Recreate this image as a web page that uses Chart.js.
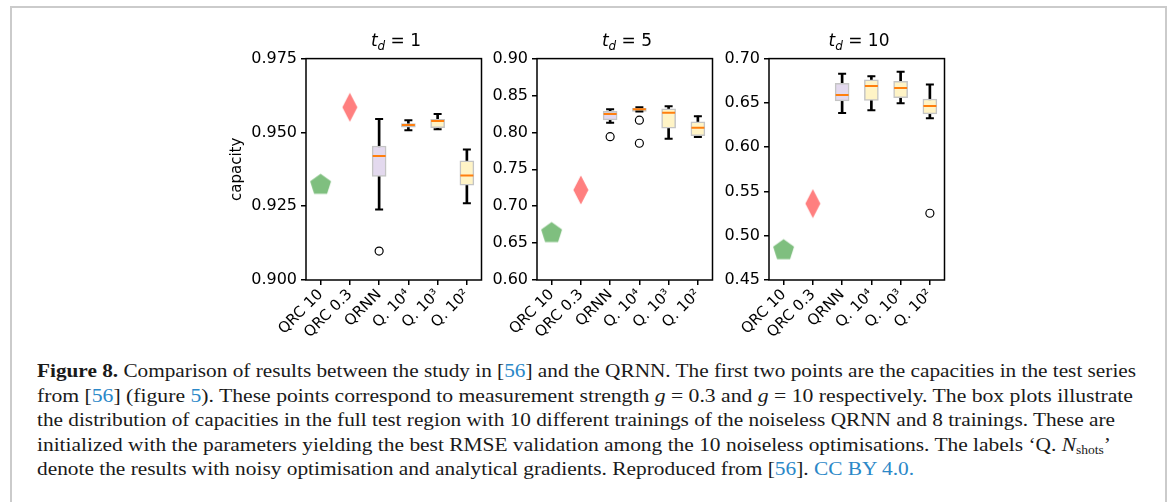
<!DOCTYPE html>
<html>
<head>
<meta charset="utf-8">
<script src="https://cdn.jsdelivr.net/npm/chart.js@4.4.0/dist/chart.umd.min.js"></script>
<style>
  body { margin:0; background:#fff; width:1170px; height:502px; overflow:hidden; position:relative; font-family:"DejaVu Sans", sans-serif; }
  .frame { position:absolute; left:10px; top:6px; width:1153px; height:520px; border:2px solid #cbcbcb; border-bottom:none; }
  canvas { position:absolute; }
  .ttl { position:absolute; width:180px; text-align:center; font-size:17px; top:30px; color:#000; }
  .ttl sub { font-size:12px; vertical-align:-4px; }
  .cap { position:absolute; left:37px; font-family:"Liberation Serif", serif; font-size:19px; white-space:nowrap; transform-origin:0 0; color:#1a1a1a; }
  .lk { color:#2b88c8; }
  .cap sub { font-size:12px; vertical-align:-3px; }
</style>
</head>
<body>
<div class="frame"></div>

<canvas id="c1" width="262" height="305" style="left:228px;top:45px"></canvas>
<canvas id="c2" width="234" height="305" style="left:487px;top:45px"></canvas>
<canvas id="c3" width="234" height="305" style="left:719px;top:45px"></canvas>

<div class="ttl" style="left:306px"><i>t</i><sub><i>d</i></sub> = 1</div>
<div class="ttl" style="left:537px"><i>t</i><sub><i>d</i></sub> = 5</div>
<div class="ttl" style="left:769px"><i>t</i><sub><i>d</i></sub> = 10</div>

<div class="cap" data-w="1099" style="top:360px"><b>Figure 8.</b> Comparison of results between the study in [<span class="lk">56</span>] and the QRNN. The first two points are the capacities in the test series</div>
<div class="cap" data-w="1096" style="top:384.5px">from [<span class="lk">56</span>] (figure <span class="lk">5</span>). These points correspond to measurement strength <i>g</i> = 0.3 and <i>g</i> = 10 respectively. The box plots illustrate</div>
<div class="cap" data-w="1078" style="top:409px">the distribution of capacities in the full test region with 10 different trainings of the noiseless QRNN and 8 trainings. These are</div>
<div class="cap" data-w="1074" style="top:433.5px">initialized with the parameters yielding the best RMSE validation among the 10 noiseless optimisations. The labels ‘Q. <i>N</i><sub>shots</sub>’</div>
<div class="cap" data-w="877" style="top:458px">denote the results with noisy optimisation and analytical gradients. Reproduced from [<span class="lk">56</span>]. <span class="lk">CC BY 4.0.</span></div>

<script>
// ── Data ──────────────────────────────────────────────
const CATS = ['QRC 10', 'QRC 0.3', 'QRNN', 'Q. 10⁴', 'Q. 10³', 'Q. 10²'];
const BOX_CATS = ['QRNN', 'Q. 10⁴', 'Q. 10³', 'Q. 10²'];

// single points from the reference study (t_d = 1, 5, 10)
const QRC10  = [0.9326, 0.665, 0.4848];
const QRC03  = [0.9585, 0.722, 0.5363];

// box stats, t_d = 1
const td1Low  = [0.9239, 0.9507, 0.9511, 0.9260];
const td1Q1   = [0.9351, 0.9518, 0.9516, 0.9321];
const td1Med  = [0.9420, 0.9525, 0.9539, 0.9354];
const td1Q3   = [0.9454, 0.9530, 0.9544, 0.9404];
const td1High = [0.9545, 0.9541, 0.9562, 0.9442];
const td1Out  = [['QRNN', 0.9098]];

// box stats, t_d = 5
const td5Low  = [0.8130, 0.8283, 0.7915, 0.7937];
const td5Q1   = [0.8170, 0.8283, 0.8058, 0.7955];
const td5Med  = [0.8251, 0.8314, 0.8266, 0.8063];
const td5Q3   = [0.8287, 0.8327, 0.8320, 0.8144];
const td5High = [0.8314, 0.8340, 0.8354, 0.8220];
const td5Out  = [['QRNN', 0.7942], ['Q. 10⁴', 0.8166], ['Q. 10⁴', 0.7853]];

// box stats, t_d = 10
const td10Low  = [0.6387, 0.6417, 0.6496, 0.6327];
const td10Q1   = [0.6522, 0.6529, 0.6559, 0.6376];
const td10Med  = [0.6589, 0.6690, 0.6667, 0.6466];
const td10Q3   = [0.6720, 0.6761, 0.6742, 0.6544];
const td10High = [0.6828, 0.6802, 0.6851, 0.6708];
const td10Out  = [['Q. 10²', 0.5254]];

const BOX_FILL = ['#e3d9ee', '#fff4c6', '#fff4c6', '#fff4c6'];

// ── Marker images ──────────────────────────────────────
function pentagon() {
  const c = document.createElement('canvas');
  c.width = 23; c.height = 23;
  const g = c.getContext('2d');
  g.fillStyle = '#7fbf7f';
  g.beginPath();
  for (let i = 0; i < 5; i++) {
    const a = -Math.PI / 2 + i * 2 * Math.PI / 5;
    const x = 11.5 + 11 * Math.cos(a), y = 12.5 + 11 * Math.sin(a);
    i ? g.lineTo(x, y) : g.moveTo(x, y);
  }
  g.closePath(); g.fill();
  return c;
}
function thinDiamond() {
  const c = document.createElement('canvas');
  c.width = 16; c.height = 30;
  const g = c.getContext('2d');
  g.fillStyle = '#ff7f7f';
  g.beginPath();
  g.moveTo(8, 0.5); g.lineTo(15.5, 15); g.lineTo(8, 29.5); g.lineTo(0.5, 15);
  g.closePath(); g.fill();
  return c;
}
const PENT = pentagon();
const DIAM = thinDiamond();

// frame around plot area (matplotlib spines)
const spines = {
  id: 'spines',
  afterDraw(chart) {
    const a = chart.chartArea, ctx = chart.ctx;
    ctx.save();
    ctx.strokeStyle = '#000';
    ctx.lineWidth = 1.5;
    ctx.strokeRect(a.left, a.top, a.right - a.left, a.bottom - a.top);
    ctx.restore();
  }
};

function pts(cats, vals) {
  return cats.map((c, i) => ({ x: c, y: vals[i] }));
}

function makePanel(id, idx, low, q1, med, q3, high, out, yMin, yMax, step, dec, yWidth, yTitle) {
  const ctx = document.getElementById(id);
  new Chart(ctx, {
    type: 'bar',
    data: {
      labels: CATS,
      datasets: [
        { type: 'line', data: [{ x: 'QRC 10', y: QRC10[idx] }], showLine: false,
          pointStyle: PENT, order: 0 },
        { type: 'line', data: [{ x: 'QRC 0.3', y: QRC03[idx] }], showLine: false,
          pointStyle: DIAM, order: 0 },
        { type: 'line', data: pts(BOX_CATS, med), showLine: false, pointStyle: 'line',
          pointRadius: 6.5, pointBorderColor: '#ff7f0e', pointBorderWidth: 2, order: 1 },
        { type: 'line', data: pts(BOX_CATS, low), showLine: false, pointStyle: 'line',
          pointRadius: 4, pointBorderColor: '#000', pointBorderWidth: 2, order: 2 },
        { type: 'line', data: pts(BOX_CATS, high), showLine: false, pointStyle: 'line',
          pointRadius: 4, pointBorderColor: '#000', pointBorderWidth: 2, order: 2 },
        { type: 'line', data: out.map(o => ({ x: o[0], y: o[1] })), showLine: false,
          pointStyle: 'circle', pointRadius: 4, pointBackgroundColor: '#fff',
          pointBorderColor: '#000', pointBorderWidth: 1.2, order: 2 },
        { data: [null, null].concat(q1.map((v, i) => [v, q3[i]])),
          backgroundColor: [null, null].concat(BOX_FILL), borderColor: '#c4c4c4',
          borderWidth: 1.5, borderSkipped: false, barThickness: 14, grouped: false, order: 3 },
        { data: [null, null].concat(low.map((v, i) => [v, high[i]])),
          backgroundColor: '#000', borderWidth: 0, barThickness: 2, grouped: false, order: 4 },
      ]
    },
    options: {
      responsive: false,
      animation: false,
      events: [],
      devicePixelRatio: 1,
      layout: { padding: { top: 0, right: 4, left: 0, bottom: 0 } },
      plugins: { legend: { display: false }, tooltip: { enabled: false } },
      scales: {
        x: {
          offset: true,
          border: { display: false },
          grid: { drawOnChartArea: false, offset: false, color: '#000', lineWidth: 1.5, tickLength: 5 },
          ticks: { color: '#000', font: { family: 'DejaVu Sans', size: 15 }, minRotation: 45,
                   maxRotation: 45, autoSkip: false, padding: 1 },
          afterFit: s => { s.height = 70; }
        },
        y: {
          min: yMin, max: yMax,
          border: { display: false },
          grid: { drawOnChartArea: false, color: '#000', lineWidth: 1.5, tickLength: 5 },
          ticks: { stepSize: step, color: '#000', font: { family: 'DejaVu Sans', size: 16 },
                   padding: 4, callback: v => v.toFixed(dec) },
          title: { display: !!yTitle, text: yTitle || '', color: '#000',
                   font: { family: 'DejaVu Sans', size: 15 }, padding: { top: 0, bottom: 0 } },
          afterFit: s => { s.width = yWidth; }
        }
      }
    },
    plugins: [spines]
  });
}

makePanel('c1', 0, td1Low, td1Q1, td1Med, td1Q3, td1High, td1Out, 0.9, 0.975, 0.025, 3, 78, 'capacity');
makePanel('c2', 1, td5Low, td5Q1, td5Med, td5Q3, td5High, td5Out, 0.6, 0.9, 0.05, 2, 50);
makePanel('c3', 2, td10Low, td10Q1, td10Med, td10Q3, td10High, td10Out, 0.45, 0.7, 0.05, 2, 50);

// squeeze caption lines to the reference widths
document.querySelectorAll('.cap').forEach(el => {
  const w = el.getBoundingClientRect().width;
  el.style.transform = 'scaleX(' + (+el.dataset.w / w) + ')';
});
</script>
</body>
</html>
